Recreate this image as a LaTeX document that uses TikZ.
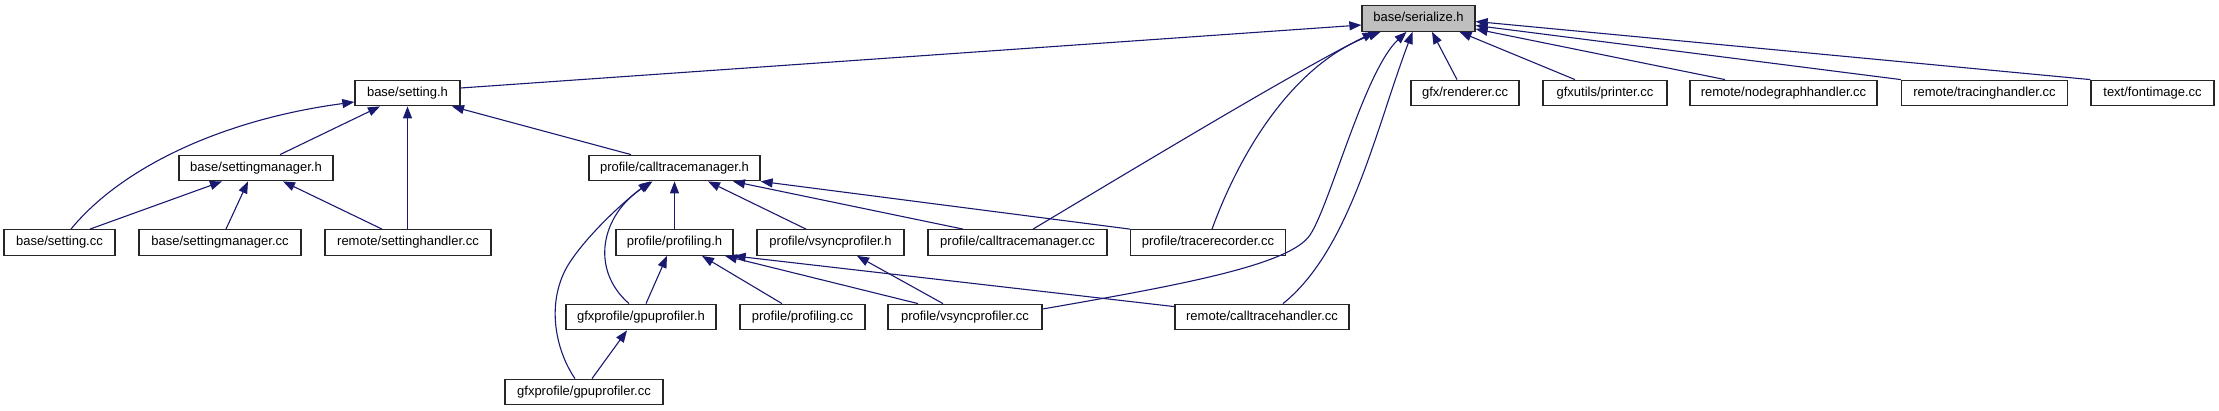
\documentclass[tikz,border=0pt]{standalone}
\usepackage{fontspec}
\setmainfont{Liberation Sans}
\usetikzlibrary{arrows.meta,calc}
\definecolor{edgeblue}{RGB}{25,25,112}
\definecolor{focusgray}{RGB}{191,191,191}
\begin{document}
\begin{tikzpicture}[x=1pt,y=-1pt,
  filebox/.style={draw=black!85,line width=1.3pt,fill=white,minimum height=25.5pt,inner sep=0pt,
    text height=9.5pt,text depth=2.8pt,font=\fontsize{13}{15}\selectfont},
  focusbox/.style={filebox,fill=focusgray},
  edge/.style={draw=edgeblue,line width=1.1pt,-{Triangle[length=12pt,width=9pt]}}]
\path[use as bounding box] (0,0) rectangle (2219,411);
% row 0
\node[focusbox,minimum width=113pt] (ser) at (1418.5,18.5) {base/serialize.h};
% row 1
\node[filebox,minimum width=105pt] (seth) at (407.5,93) {base/setting.h};
\node[filebox,minimum width=108pt] (renderer) at (1465,93) {gfx/renderer.cc};
\node[filebox,minimum width=124pt] (printer) at (1605,93) {gfxutils/printer.cc};
\node[filebox,minimum width=187pt] (nodegraph) at (1783.5,93) {remote/nodegraphhandler.cc};
\node[filebox,minimum width=166pt] (tracing) at (1984.5,93) {remote/tracinghandler.cc};
\node[filebox,minimum width=123pt] (fontimage) at (2152.5,93) {text/fontimage.cc};
% row 2
\node[filebox,minimum width=154pt] (smh) at (256,168) {base/settingmanager.h};
\node[filebox,minimum width=171pt] (ctmh) at (674.5,168) {profile/calltracemanager.h};
% row 3
\node[filebox,minimum width=111pt] (settingcc) at (59.5,242.5) {base/setting.cc};
\node[filebox,minimum width=162pt] (smcc) at (220,242.5) {base/settingmanager.cc};
\node[filebox,minimum width=166pt] (shcc) at (408,242.5) {remote/settinghandler.cc};
\node[filebox,minimum width=117pt] (profh) at (674.5,242.5) {profile/profiling.h};
\node[filebox,minimum width=147pt] (vsynch) at (830.5,242.5) {profile/vsyncprofiler.h};
\node[filebox,minimum width=179pt] (ctmcc) at (1017.5,242.5) {profile/calltracemanager.cc};
\node[filebox,minimum width=155pt] (trcc) at (1208,242.5) {profile/tracerecorder.cc};
% row 4
\node[filebox,minimum width=150pt] (gpuh) at (641,317) {gfxprofile/gpuprofiler.h};
\node[filebox,minimum width=125pt] (profcc) at (802.5,317) {profile/profiling.cc};
\node[filebox,minimum width=154pt] (vsynccc) at (965,317) {profile/vsyncprofiler.cc};
\node[filebox,minimum width=174pt] (cthcc) at (1262,317) {remote/calltracehandler.cc};
% row 5
\node[filebox,minimum width=158pt] (gpucc) at (584,392) {gfxprofile/gpuprofiler.cc};

% edges to base/serialize.h
\draw[edge] ($(seth.east)+(0,-5)$) -- ($(ser.west)+(0,6.5)$);
\draw[edge] ($(ctmcc.north)+(15.5,0)$) .. controls +(117,-70) and +(-78,39) .. ($(ser.south)+(-44,0)$);
\draw[edge] ($(trcc.north)+(4,0)$) .. controls +(33,-90) and +(-80,29) .. ($(ser.south)+(-38,0)$);
\draw[edge] ($(vsynccc.east)+(0,-8)$) .. controls +(138,-24) and +(-20,30) .. (1310,235)
  .. controls +(20,-30) and +(-42,39) .. ($(ser.south)+(-12,0)$);
\draw[edge] ($(cthcc.north)+(21,0)$) .. controls +(67,-54) and +(-37,98) .. ($(ser.south)+(-6,0)$);
\draw[edge] ($(renderer.north)+(-8,0)$) -- ($(ser.south)+(13.5,0)$);
\draw[edge] ($(printer.north)+(-30,0)$) -- ($(ser.south)+(41,0)$);
\draw[edge] ($(nodegraph.north)+(-58.5,0)$) -- ($(ser.east)+(0,10.5)$);
\draw[edge] (tracing.north west) -- ($(ser.east)+(0,7)$);
\draw[edge] (fontimage.north west) -- ($(ser.east)+(0,3)$);
% edges to base/setting.h
\draw[edge] ($(settingcc.north)+(11.5,0)$) .. controls +(49,-60) and +(-135,18) .. ($(seth.west)+(0,9)$);
\draw[edge] ($(smh.north)+(24,0)$) -- ($(seth.south)+(-27.5,0)$);
\draw[edge] ($(shcc.north)+(-0.5,0)$) -- (seth.south);
\draw[edge] ($(ctmh.north)+(-43.5,0)$) -- ($(seth.south)+(44.5,0)$);
% edges to base/settingmanager.h
\draw[edge] ($(settingcc.north)+(30.5,0)$) -- ($(smh.south)+(-34,0)$);
\draw[edge] ($(smcc.north)+(6,0)$) -- ($(smh.south)+(-8,0)$);
\draw[edge] ($(shcc.north)+(-26,0)$) -- ($(smh.south)+(27,0)$);
% edges to profile/calltracemanager.h
\draw[edge] (profh.north) -- (ctmh.south);
\draw[edge] ($(gpuh.north)+(-12,0)$) .. controls +(-39,-34) and +(-52,34) .. ($(ctmh.south)+(-22,0)$);
\draw[edge] ($(gpucc.north)+(-9,0)$) .. controls +(-20,-29) and +(-25,38) .. (570,262)
  .. controls +(20,-30) and +(-25,19) .. ($(ctmh.south)+(-24,0)$);
\draw[edge] ($(vsynch.north)+(-24.5,0)$) -- ($(ctmh.south)+(33.5,0)$);
\draw[edge] ($(ctmcc.north)+(-54.5,0)$) -- ($(ctmh.south)+(58.5,0)$);
\draw[edge] (trcc.north west) -- (ctmh.south east);
% edges to profile/profiling.h
\draw[edge] ($(gpuh.north)+(5,0)$) -- ($(profh.south)+(-7.5,0)$);
\draw[edge] ($(profcc.north)+(-20.5,0)$) -- ($(profh.south)+(27.5,0)$);
\draw[edge] ($(vsynccc.north)+(-47,0)$) -- ($(profh.south)+(50.5,0)$);
\draw[edge] ($(cthcc.north west)+(0,3)$) -- (profh.south east);
% edge to profile/vsyncprofiler.h
\draw[edge] ($(vsynccc.north)+(-22,0)$) -- ($(vsynch.south)+(26.5,0)$);
% edge to gfxprofile/gpuprofiler.h
\draw[edge] ($(gpucc.north)+(8,0)$) -- ($(gpuh.south)+(-14,0)$);
\end{tikzpicture}
\end{document}
